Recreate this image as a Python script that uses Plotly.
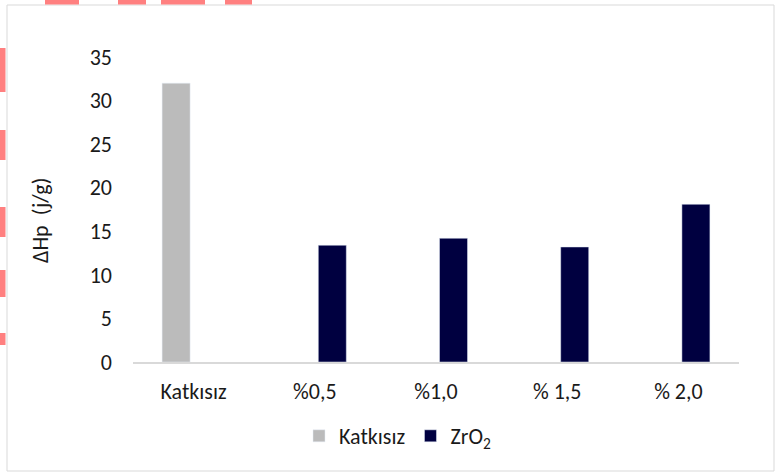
import plotly.graph_objects as go

categories = ["Katkısız", "%0,5", "%1,0", "% 1,5", "% 2,0"]
katkisiz_values = [32.0, None, None, None, None]
zro2_values = [None, 13.4, 14.2, 13.2, 18.1]
y_ticks = [0, 5, 10, 15, 20, 25, 30, 35]

FONT = "Carlito, Calibri, Lato, sans-serif"
TXT = "#1a1a1a"
FS = 22

fig = go.Figure()
fig.add_trace(go.Bar(x=categories, y=katkisiz_values, name="Katkısız",
                     marker=dict(color="#bbbbbb")))
fig.add_trace(go.Bar(x=categories, y=zro2_values, name="ZrO<sub>2</sub>",
                     marker=dict(color="#000040")))

L, R, T, B = 133, 37, 57, 111
W, H = 776, 473
pw, ph = W - L - R, H - T - B


def px(x):
    return (x - L) / pw


def py(y):
    return (362 - y) / ph


shapes = [dict(type="rect", xref="paper", yref="paper",
               x0=px(7), x1=px(774), y0=py(471), y1=py(5),
               line=dict(color="#d9d9d9", width=1), fillcolor="rgba(0,0,0,0)",
               layer="below")]

# faint red dashed outline remnants at the picture's top-left edges
SALMON = "#ff8080"
for a, b in [(45, 79), (118, 146), (161, 205), (225, 252)]:
    shapes.append(dict(type="line", xref="paper", yref="paper",
                       x0=px(a), x1=px(b), y0=py(2), y1=py(2),
                       line=dict(color=SALMON, width=5)))
for a, b in [(48, 92), (130, 160), (207, 237), (270, 297), (333, 345)]:
    shapes.append(dict(type="line", xref="paper", yref="paper",
                       x0=px(2.5), x1=px(2.5), y0=py(a), y1=py(b),
                       line=dict(color=SALMON, width=6)))

fig.update_layout(
    width=W, height=H,
    margin=dict(l=L, r=R, t=T, b=B),
    paper_bgcolor="white", plot_bgcolor="white",
    barmode="group", bargap=0.422, bargroupgap=0.2,
    font=dict(family=FONT, size=FS, color=TXT),
    showlegend=True,
    legend=dict(orientation="h", x=px(299), xanchor="left",
                y=py(436), yanchor="middle",
                font=dict(family=FONT, size=FS, color=TXT),
                traceorder="normal", borderwidth=0),
    xaxis=dict(showline=True, linecolor="#d9d9d9", linewidth=1.5,
               showgrid=False, zeroline=False, ticks="",
               ticklabelstandoff=9, tickfont=dict(size=FS, color=TXT)),
    yaxis=dict(range=[0, 35], tickvals=y_ticks, showgrid=False,
               zeroline=False, showline=False, ticks="",
               ticklabelstandoff=20, tickfont=dict(size=FS, color=TXT)),
    annotations=[dict(text="ΔHp  (j/g)", textangle=-90, xref="paper", yref="paper",
                      x=px(40), y=py(221), showarrow=False,
                      xanchor="center", yanchor="middle",
                      font=dict(family=FONT, size=FS, color=TXT))],
    shapes=shapes,
)

fig.write_html("out.html", config={"displayModeBar": False},
               post_script="document.body.style.margin='0';")
